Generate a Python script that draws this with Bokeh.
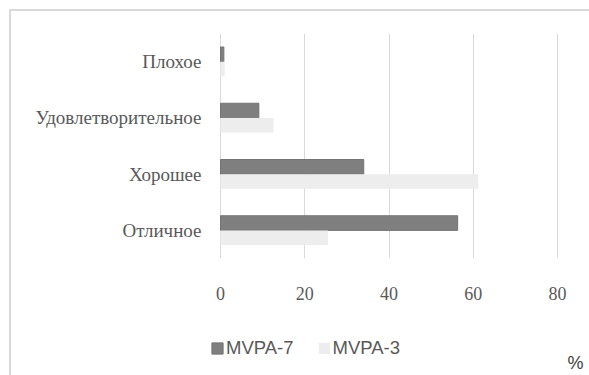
from bokeh.plotting import figure
from bokeh.models import (Range1d, FactorRange, FixedTicker, Legend, LegendItem,
                          Label, ColumnDataSource, Div, Spacer)
from bokeh.layouts import column, row
from bokeh.transform import dodge
from bokeh.embed import file_html
from bokeh.resources import INLINE

# Self-rated health, share of respondents (%)
categories = ["Отличное", "Хорошее", "Удовлетворительное", "Плохое"]
mvpa7 = [56.3, 34.0, 9.1, 0.8]
mvpa3 = [25.5, 61.2, 12.6, 1.0]
x_ticks = [0, 20, 40, 60, 80]
series_names = ["MVPA-7", "MVPA-3"]
unit_sign = "%"

colors = {"MVPA-7": ("#7f7f7f", "#737373"), "MVPA-3": ("#ededed", None)}

source = ColumnDataSource(dict(cat=categories, mvpa7=mvpa7, mvpa3=mvpa3))

OFF = 11          # outer margin + frame line thickness
CHART_H = 299     # bars + value axis
LEGEND_H = 375 - OFF - CHART_H
W = 589 - OFF
FRAME_L = 210     # page x of the plotting frame's left edge
ZERO_X = 220      # page x of the value 0
EIGHTY_X = 557    # page x of the value 80
px_per_unit = (EIGHTY_X - ZERO_X) / 80

p = figure(width=W, height=CHART_H, output_backend="svg",
           toolbar_location=None,
           y_range=FactorRange(factors=categories, range_padding=0),
           x_range=Range1d(-(ZERO_X - FRAME_L) / px_per_unit,
                           (589 - ZERO_X) / px_per_unit),
           min_border_left=FRAME_L - OFF, min_border_right=0,
           min_border_top=33 - OFF, min_border_bottom=52)
p.outline_line_color = None
p.background_fill_color = "white"
p.border_fill_color = "white"

p.hbar(y=dodge("cat", 0.13, range=p.y_range), right="mvpa7", left=0,
       height=0.26, source=source, fill_color=colors["MVPA-7"][0],
       line_color=colors["MVPA-7"][1], line_width=1)
p.hbar(y=dodge("cat", -0.13, range=p.y_range), right="mvpa3", left=0,
       height=0.26, source=source, fill_color=colors["MVPA-3"][0],
       line_color=colors["MVPA-3"][1])

serif = "Liberation Serif"
p.xaxis.ticker = FixedTicker(ticks=x_ticks)
p.xaxis.axis_line_color = None
p.xaxis.major_tick_line_color = None
p.xaxis.minor_tick_line_color = None
p.xaxis.major_label_standoff = 22
p.xaxis.major_label_text_font = serif
p.xaxis.major_label_text_font_size = "18px"
p.xaxis.major_label_text_color = "#595959"

p.yaxis.axis_line_color = None
p.yaxis.major_tick_line_color = None
p.yaxis.minor_tick_line_color = None
p.yaxis.major_label_standoff = 13 - (ZERO_X - FRAME_L)
p.yaxis.major_label_text_font = serif
p.yaxis.major_label_text_font_size = "19px"
p.yaxis.major_label_text_color = "#595959"

p.xgrid.grid_line_color = "#d9d9d9"
p.xgrid.grid_line_width = 1
p.ygrid.grid_line_color = None

# legend strip under the chart; its frame lines up with the chart frame,
# so x is measured in page pixels from FRAME_L to the right edge
q = figure(width=W, height=LEGEND_H, output_backend="svg", toolbar_location=None,
           x_range=Range1d(FRAME_L, 589), y_range=Range1d(0, LEGEND_H),
           min_border_left=0, min_border_right=0,
           min_border_top=0, min_border_bottom=0)
q.axis.visible = False
q.grid.visible = False
q.outline_line_color = None
q.background_fill_color = "white"
q.border_fill_color = "white"

# zero-size swatch renderers that only carry the legend styling
swatches = []
for name in series_names:
    fill, line = colors[name]
    swatches.append(q.hbar(y=[0], right=[0], left=[0], height=0,
                           fill_color=fill, line_color=line))

legend = Legend(items=[LegendItem(label=n, renderers=[r])
                       for n, r in zip(series_names, swatches)],
                orientation="horizontal", location=(0, 16),
                glyph_width=14, glyph_height=14, label_standoff=2,
                spacing=23, padding=0, margin=0,
                label_text_font="Liberation Sans", label_text_font_size="18.5px",
                label_text_color="#595959",
                border_line_color=None, background_fill_alpha=0)
q.add_layout(legend, "center")

q.add_layout(Label(x=575, y=13, text=unit_sign, text_font="Liberation Sans",
                   text_font_size="18px", text_color="#404040",
                   text_align="center", text_baseline="middle"))

# light frame line along the top and left edges of the chart area
line_style = {"background-color": "#d9d9d9"}
top_line = Div(width=589 - 9, height=2, styles=line_style, margin=0)
left_line = Div(width=2, height=375 - OFF, styles=line_style, margin=0)
layout = column(
    Spacer(height=9, margin=0),
    row(Spacer(width=9, margin=0), top_line, margin=0),
    row(Spacer(width=9, margin=0), left_line,
        column(p, q, margin=0, spacing=0), margin=0),
    margin=0, spacing=0,
)

open("out.html", "w").write(file_html(layout, INLINE))
